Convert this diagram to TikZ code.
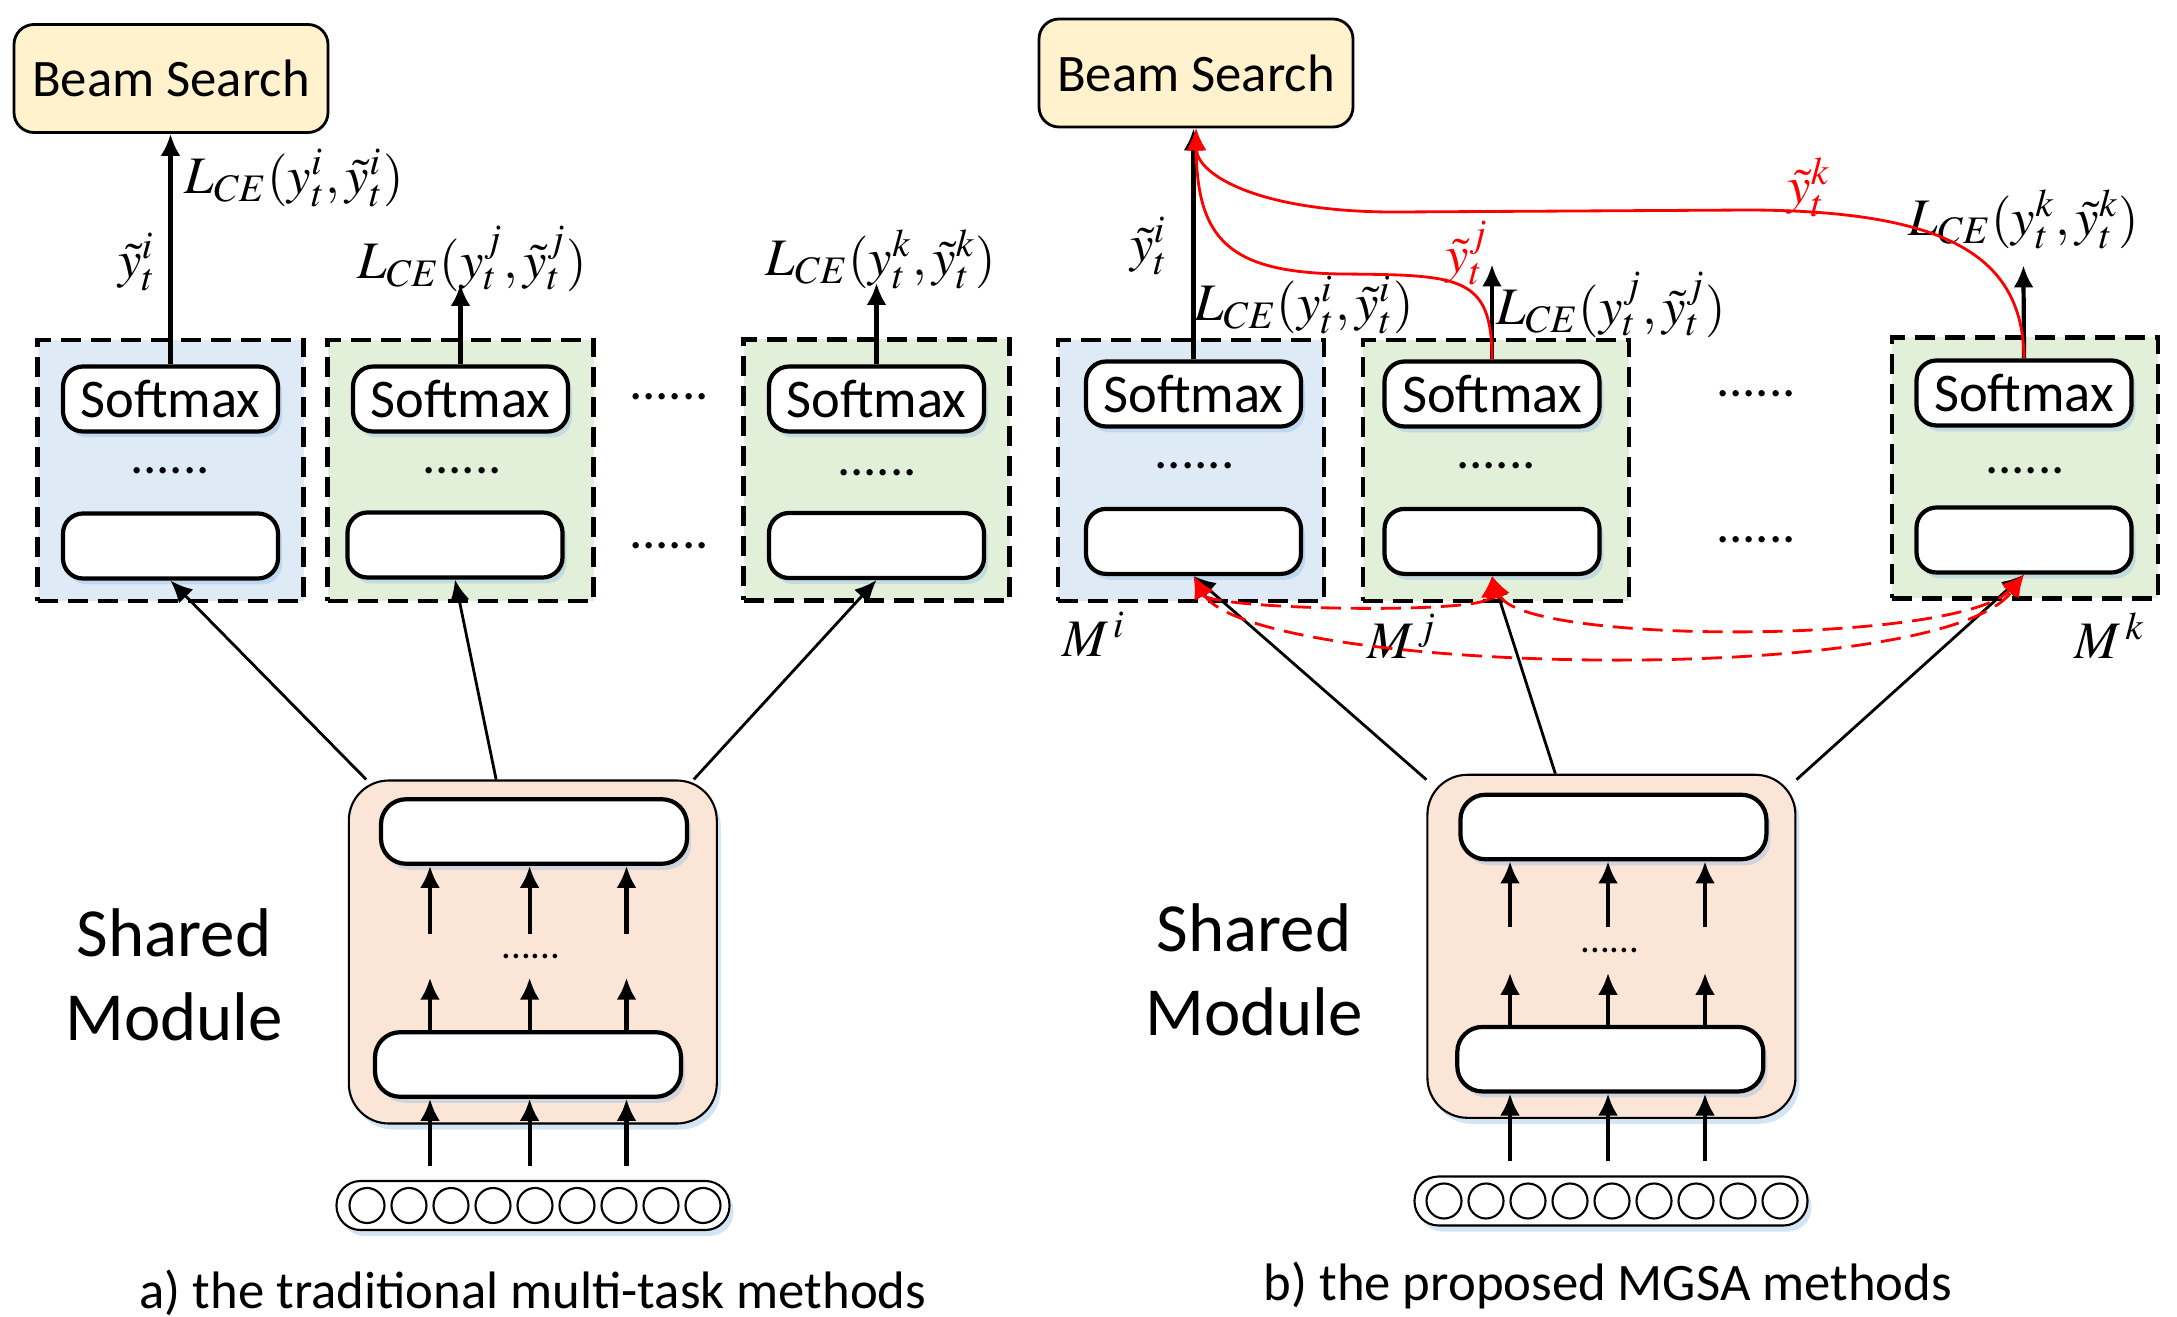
\documentclass[tikz,border=0pt]{standalone}
\usepackage{mathptmx}
\usepackage{fontspec}
\setmainfont{Carlito}
\usepackage{xcolor}
\usetikzlibrary{arrows.meta, shadows}
\definecolor{beamfill}{HTML}{FFF2CC}
\definecolor{bluefill}{HTML}{DEEBF7}
\definecolor{greenfill}{HTML}{E2F0D9}
\definecolor{sharedfill}{HTML}{FBE5D6}
\definecolor{shadowblue}{HTML}{9DC3E6}
\tikzset{
	>={Latex[length = 2.2mm, width = 2mm]},
	boxshadow/.style = {drop shadow = {shadow xshift = 0.4mm, shadow yshift = -0.6mm, fill = shadowblue, opacity = 0.45}},
	beambox/.style = {draw, thick, rounded corners = 2mm, fill = beamfill, minimum width = 3.14cm, minimum height = 1.08cm, font = \fontsize{15}{18}\selectfont},
	taskbox/.style = {draw, very thick, dash pattern = on 2mm off 1mm, minimum width = 2.66cm, minimum height = 2.61cm},
	softbox/.style = {draw, very thick, rounded corners = 2mm, fill = white, minimum width = 2.15cm, minimum height = 0.65cm, inner sep = 0pt, font = \fontsize{15.5}{18}\selectfont, boxshadow},
	sharedbox/.style = {draw, semithick, rounded corners = 4mm, fill = sharedfill, minimum width = 3.68cm, minimum height = 3.43cm, boxshadow},
	widebox/.style = {draw, very thick, rounded corners = 2.5mm, fill = white, minimum width = 3.06cm, minimum height = 0.645cm, boxshadow},
	inputbar/.style = {draw, semithick, rounded corners = 2.4mm, fill = white, minimum width = 3.93cm, minimum height = 0.49cm, boxshadow},
	neuron/.style = {draw, circle, semithick, minimum size = 0.35cm, inner sep = 0pt},
	dotrow/.style = {font = \fontsize{15}{18}\selectfont, inner sep = 0pt, anchor = base},
	smalldots/.style = {font = \fontsize{11}{13}\selectfont, inner sep = 0pt, anchor = base},
	loss/.style = {font = \fontsize{15}{18}\selectfont, inner sep = 0pt},
	sharedtext/.style = {align = center, font = \fontsize{19.6}{24}\selectfont},
	captext/.style = {font = \fontsize{15}{18}\selectfont},
	uparrow/.style = {->, very thick},
	feedarrow/.style = {->, thick},
	redline/.style = {->, thick, red},
	reddash/.style = {<->, thick, red, dash pattern = on 2mm off 1mm},
}

\begin{document}
\begin{tikzpicture}
	\useasboundingbox (0, 0) rectangle (21.77, -13.17);
	% 左图: 任务模块
	\node [beambox] (beamA) at (1.71, -0.785) {Beam Search};
	\node [taskbox, fill = bluefill] (taskA1) at (1.705, -4.705) {};
	\node [taskbox, fill = greenfill] (taskA2) at (4.605, -4.705) {};
	\node [taskbox, fill = greenfill] (taskA3) at (8.765, -4.70) {};
	\node [softbox] (softA1) at (1.705, -3.99) {Softmax};
	\node [softbox] (softA2) at (4.605, -3.99) {Softmax};
	\node [softbox] (softA3) at (8.765, -3.99) {Softmax};
	\node [softbox] (layerA1) at (1.705, -5.46) {};
	\node [softbox] (layerA2) at (4.55, -5.45) {};
	\node [softbox] (layerA3) at (8.765, -5.455) {};
	\node [dotrow] (dotA1) at (1.70, -4.735) {......};
	\node [dotrow] (dotA2) at (4.62, -4.735) {......};
	\node [dotrow] (dotA3) at (8.77, -4.76) {......};
	\node [dotrow] (midA1) at (6.69, -4.00) {......};
	\node [dotrow] (midA2) at (6.69, -5.485) {......};
	% 左图: 输出
	\coordinate (tipA2) at (4.605, -2.84);
	\coordinate (tipA3) at (8.765, -2.83);
	\draw [uparrow] (softA1.north) -- (softA1.north |- beamA.south);
	\draw [uparrow] (softA2.north) -- (tipA2);
	\draw [uparrow] (softA3.north) -- (tipA3);
	\node [loss, anchor = west] (lossA1) at (1.84, -1.78) {$L_{CE}(y_t^i,\tilde{y}_t^i)$};
	\node [loss] (predA1) at (1.37, -2.62) {$\tilde{y}_t^i$};
	\node [loss] (lossA2) at (4.72, -2.59) {$L_{CE}(y_t^j,\tilde{y}_t^j)$};
	\node [loss] (lossA3) at (8.81, -2.59) {$L_{CE}(y_t^k,\tilde{y}_t^k)$};
	% 左图: 共享模块
	\node [sharedbox] (sharedA) at (5.328, -9.52) {};
	\node [widebox] (topA) at (5.34, -8.315) {};
	\node [widebox] (botA) at (5.28, -10.645) {};
	\node [smalldots] (dotA) at (5.31, -9.58) {......};
	\foreach \x [count = \n] in {4.30, 5.296, 6.265} {
		\coordinate (uA\n) at (\x, -9.34);
		\coordinate (mA\n) at (\x, -9.777);
		\coordinate (iA\n) at (\x, -11.66);
		\draw [uparrow] (uA\n) -- (uA\n |- topA.south);
		\draw [uparrow] (mA\n |- botA.north) -- (mA\n);
		\draw [uparrow] (iA\n) -- (iA\n |- botA.south);
	}
	\node [inputbar] (inputA) at (5.33, -12.055) {};
	\foreach \n in {0, ..., 8}
		\node [neuron] (cellA\n) at (3.67 + 0.42*\n, -12.055) {};
	\node [sharedtext] (textA) at (1.74, -9.75) {Shared\\Module};
	\draw [feedarrow] (sharedA.134) -- (layerA1.south);
	\draw [feedarrow] (sharedA.102) -- (layerA2.south);
	\draw [feedarrow] (sharedA.47) -- (layerA3.south);
	\node [captext] (capA) at (5.33, -12.93) {a) the traditional multi-task methods};
	% 右图: 任务模块
	\node [beambox] (beamB) at (11.96, -0.73) {Beam Search};
	\node [taskbox, fill = bluefill] (taskB1) at (11.913, -4.705) {};
	\node [taskbox, fill = greenfill] (taskB2) at (14.957, -4.705) {};
	\node [taskbox, fill = greenfill] (taskB3) at (20.249, -4.68) {};
	\node [softbox] (softB1) at (11.935, -3.94) {Softmax};
	\node [softbox] (softB2) at (14.92, -3.94) {Softmax};
	\node [softbox] (softB3) at (20.24, -3.93) {Softmax};
	\node [softbox] (layerB1) at (11.935, -5.414) {};
	\node [softbox] (layerB2) at (14.92, -5.414) {};
	\node [softbox] (layerB3) at (20.24, -5.40) {};
	\node [dotrow] (dotB1) at (11.946, -4.69) {......};
	\node [dotrow] (dotB2) at (14.96, -4.69) {......};
	\node [dotrow] (dotB3) at (20.25, -4.735) {......};
	\node [dotrow] (midB1) at (17.56, -3.97) {......};
	\node [dotrow] (midB2) at (17.56, -5.43) {......};
	\node [loss] (mI) at (10.94, -6.345) {$M^{\,i}$};
	\node [loss] (mJ) at (14.02, -6.36) {$M^{\,j}$};
	\node [loss] (mK) at (21.10, -6.36) {$M^{\,k}$};
	% 右图: 共享模块
	\node [sharedbox] (sharedB) at (16.114, -9.463) {};
	\node [widebox] (topB) at (16.134, -8.27) {};
	\node [widebox] (botB) at (16.103, -10.592) {};
	\node [smalldots] (dotB) at (16.10, -9.52) {......};
	\foreach \x [count = \n] in {15.10, 16.08, 17.05} {
		\coordinate (uB\n) at (\x, -9.27);
		\coordinate (mB\n) at (\x, -9.728);
		\coordinate (iB\n) at (\x, -11.61);
		\draw [uparrow] (uB\n) -- (uB\n |- topB.south);
		\draw [uparrow] (mB\n |- botB.north) -- (mB\n);
		\draw [uparrow] (iB\n) -- (iB\n |- botB.south);
	}
	\node [inputbar] (inputB) at (16.11, -12.01) {};
	\foreach \n in {0, ..., 8}
		\node [neuron] (cellB\n) at (14.44 + 0.42*\n, -12.01) {};
	\node [sharedtext] (textB) at (12.54, -9.70) {Shared\\Module};
	\draw [feedarrow] (sharedB.138) -- (layerB1.south);
	\draw [feedarrow] (sharedB.108) -- (layerB2.south);
	\draw [feedarrow] (sharedB.42) -- (layerB3.south);
	\node [captext] (capB) at (16.08, -12.85) {b) the proposed MGSA methods};
	% 右图: 输出
	\coordinate (tipB2) at (14.92, -2.645);
	\coordinate (tipB3) at (20.234, -2.654);
	\draw [uparrow] (softB1.north) -- (softB1.north |- beamB.south);
	\draw [uparrow] (softB2.north) -- (tipB2);
	\draw [uparrow] (softB3.north) -- (tipB3);
	\node [loss] (predB1) at (11.49, -2.46) {$\tilde{y}_t^i$};
	\node [loss] (lossB1) at (13.04, -3.05) {$L_{CE}(y_t^i,\tilde{y}_t^i)$};
	\node [loss] (lossB2) at (16.11, -3.05) {$L_{CE}(y_t^j,\tilde{y}_t^j)$};
	\node [loss] (lossB3) at (20.24, -2.19) {$L_{CE}(y_t^k,\tilde{y}_t^k)$};
	% 红色: 输出共享
	\draw [redline] (softB2.north) .. controls (14.92, -2.75) and (14.6, -2.75) .. (13.4, -2.74)
		.. controls (12.3, -2.72) and (11.97, -2.4) .. (beamB.south);
	\draw [redline] (softB3.north) .. controls (20.23, -2.55) and (19.45, -2.11) .. (17.5, -2.10)
		-- (14.0, -2.12) .. controls (12.6, -2.13) and (11.97, -1.75) .. (beamB.south);
	\node [loss, red] (predB2) at (14.67, -2.53) {$\tilde{y}_t^j$};
	\node [loss, red] (predB3) at (18.09, -1.87) {$\tilde{y}_t^k$};
	\draw [reddash] (layerB1.south) .. controls (12.1, -6.1) and (14.9, -6.15) .. (layerB2.south);
	\draw [reddash] (layerB1.south) .. controls (12.5, -6.75) and (19.4, -6.9) .. (layerB3.south);
	\draw [reddash] (layerB2.south) .. controls (15.2, -6.45) and (19.6, -6.45) .. (layerB3.south);
\end{tikzpicture}
\end{document}
